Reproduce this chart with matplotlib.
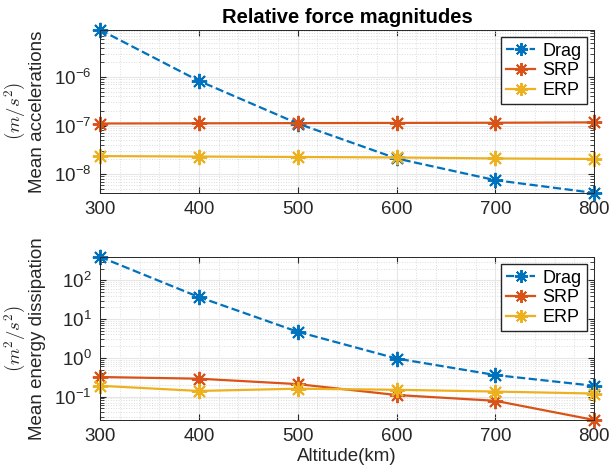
#!/usr/bin/env python3
import matplotlib.pyplot as plt
from matplotlib.ticker import MultipleLocator, LogLocator, NullFormatter
import numpy as np

plt.rcParams['font.family'] = ['Liberation Sans', 'DejaVu Sans']
plt.rcParams['mathtext.fontset'] = 'cm'

# Altitudes (km)
altitude = [300, 400, 500, 600, 700, 800]

# Mean accelerations (m/s^2)
acc_drag = [9.3e-6, 8.3e-7, 1.1e-7, 2.1e-8, 7.5e-9, 4.1e-9]
acc_srp = [1.10e-7, 1.11e-7, 1.12e-7, 1.13e-7, 1.14e-7, 1.16e-7]
acc_erp = [2.35e-8, 2.3e-8, 2.25e-8, 2.2e-8, 2.1e-8, 2.05e-8]

# Mean energy dissipation (m^2/s^2)
en_drag = [400, 37, 4.7, 0.96, 0.36, 0.19]
en_srp = [0.32, 0.29, 0.21, 0.11, 0.078, 0.025]
en_erp = [0.19, 0.14, 0.16, 0.15, 0.135, 0.12]

labels = ["Drag", "SRP", "ERP"]
colors = ["#0072BD", "#D95319", "#EDB120"]
styles = ["--", "-", "-"]

# MATLAB-like asterisk: 8 spokes
ast = (8, 2, 0)

fig = plt.figure(figsize=(6.1, 4.74), dpi=100)
ax1 = fig.add_axes([0.164, 0.593, 0.810, 0.344])
ax2 = fig.add_axes([0.164, 0.114, 0.810, 0.344])


def style_axes(ax, series, ylabel):
    for y, lab, c, ls in zip(series, labels, colors, styles):
        ax.plot(altitude, y, ls, color=c, marker=ast, markersize=11,
                markeredgewidth=1.4, linewidth=1.6, label=lab, clip_on=False)
    ax.set_yscale("log")
    ax.set_xlim(300, 800)
    lo = min(min(s) for s in series)
    hi = max(max(s) for s in series)
    ax.set_ylim(lo, hi)
    ax.xaxis.set_major_locator(MultipleLocator(100))
    ax.xaxis.set_minor_locator(MultipleLocator(20))
    ax.yaxis.set_major_locator(LogLocator(base=10, numticks=20))
    ax.yaxis.set_minor_locator(LogLocator(base=10, subs=np.arange(2, 10), numticks=20))
    ax.yaxis.set_minor_formatter(NullFormatter())
    ax.grid(True, which="major", color="#e6e6e6", linewidth=0.8)
    ax.grid(True, which="minor", color="#dcdcdc", linestyle=":", linewidth=0.7)
    ax.set_axisbelow(True)
    ax.tick_params(which="both", direction="in", top=True, right=True,
                   colors="#262626", labelsize=13.5)
    ax.tick_params(axis="x", which="minor", length=0)
    ax.tick_params(axis="y", which="minor", length=3)
    ax.tick_params(which="major", length=4, pad=6)
    for sp in ax.spines.values():
        sp.set_color("#262626")
        sp.set_linewidth(0.7)
    ax.set_ylabel(ylabel, fontsize=13.5, color="#262626", labelpad=6,
                  linespacing=1.05)
    ax.legend(loc="upper right", fontsize=13, fancybox=False,
              edgecolor="#262626", framealpha=1, handlelength=1.6,
              borderpad=0.3, labelspacing=0.15, handletextpad=0.4,
              borderaxespad=0.4, markerscale=0.85)


style_axes(ax1, [acc_drag, acc_srp, acc_erp], "$(m/s^2)$\nMean accelerations")
style_axes(ax2, [en_drag, en_srp, en_erp], "$(m^2/s^2)$\nMean energy dissipation")

ax1.set_title("Relative force magnitudes", fontsize=14.5, fontweight="bold", pad=5)
ax2.set_xlabel("Altitude(km)", fontsize=13.5, color="#262626", labelpad=2)

fig.savefig("out.png", dpi=100)
